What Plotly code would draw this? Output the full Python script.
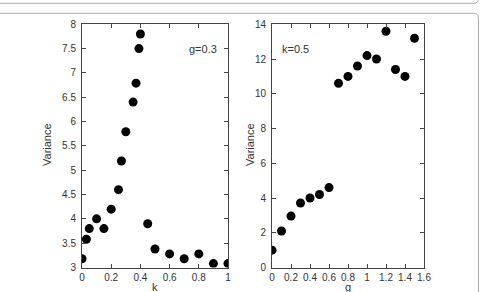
import plotly.graph_objects as go

W, H = 480, 292

# Left panel: g = 0.3
k_vals = [0.0, 0.03, 0.05, 0.10, 0.15, 0.20, 0.25, 0.27, 0.30, 0.35, 0.37, 0.39, 0.40,
          0.45, 0.50, 0.60, 0.70, 0.80, 0.90, 1.00]
var_k = [3.18, 3.58, 3.8, 4.0, 3.8, 4.2, 4.6, 5.19, 5.79, 6.4, 6.79, 7.5, 7.8,
         3.9, 3.38, 3.28, 3.18, 3.28, 3.08, 3.08]

# Right panel: k = 0.5
g_vals = [0.0, 0.1, 0.2, 0.3, 0.4, 0.5, 0.6, 0.7, 0.8, 0.9, 1.0, 1.1, 1.2, 1.3, 1.4, 1.5]
var_g = [1.0, 2.1, 2.96, 3.71, 4.0, 4.2, 4.6, 10.6, 11.0, 11.6, 12.2, 12.0, 13.6, 11.4, 11.0, 13.2]

left_yticks = [3, 3.5, 4, 4.5, 5, 5.5, 6, 6.5, 7, 7.5, 8]
left_xticks = [0, 0.2, 0.4, 0.6, 0.8, 1]
right_yticks = [0, 2, 4, 6, 8, 10, 12, 14]
right_xticks = [0, 0.2, 0.4, 0.6, 0.8, 1, 1.2, 1.4, 1.6]


def px(x):
    return x / W


def py(y):
    return 1 - y / H


fig = go.Figure()
mk = dict(color="black", size=9)
fig.add_trace(go.Scatter(x=k_vals, y=var_k, mode="markers", marker=mk,
                         xaxis="x", yaxis="y", showlegend=False))
fig.add_trace(go.Scatter(x=g_vals, y=var_g, mode="markers", marker=mk,
                         xaxis="x2", yaxis="y2", showlegend=False))

font = dict(family="Liberation Sans, Arial, sans-serif", size=10, color="#333")
ax_common = dict(showgrid=False, zeroline=False, showline=True, linecolor="#444",
                 linewidth=1, mirror="allticks", ticks="inside", ticklen=4,
                 tickcolor="#444", tickfont=font, automargin=False)
xax = dict(ax_common, ticklabelstandoff=0)
yax = dict(ax_common, ticklabelstandoff=3)

ydom = [py(267.5), py(24.3)]
fig.update_layout(
    width=W, height=H,
    margin=dict(l=0, r=0, t=0, b=0),
    paper_bgcolor="white", plot_bgcolor="white",
    xaxis=dict(domain=[px(82), px(228)], range=[0, 1], tickvals=left_xticks,
               ticktext=[str(v) for v in left_xticks], anchor="y", **xax),
    yaxis=dict(domain=ydom, range=[3, 8], tickvals=left_yticks,
               ticktext=[f"{v:g}" for v in left_yticks], anchor="x", **yax),
    xaxis2=dict(domain=[px(272), px(424)], range=[0, 1.6], tickvals=right_xticks,
                ticktext=[f"{v:g}" for v in right_xticks], anchor="y2", **xax),
    yaxis2=dict(domain=ydom, range=[0, 14], tickvals=right_yticks,
                ticktext=[str(v) for v in right_yticks], anchor="x2", **yax),
)

tfont = dict(family="Liberation Sans, Arial, sans-serif", size=11, color="#333")
ann = [
    dict(text="Variance", x=px(47), y=py(145), textangle=-90),
    dict(text="Variance", x=px(250), y=py(145), textangle=-90),
    dict(text="k", x=px(155), y=py(286.5)),
    dict(text="g", x=px(348), y=py(287)),
    dict(text="g=0.3", x=px(203), y=py(49)),
    dict(text="k=0.5", x=px(295), y=py(49)),
]
for a in ann:
    fig.add_annotation(xref="paper", yref="paper", showarrow=False, font=tfont,
                       xanchor="center", yanchor="middle", **a)

# figure frame lines
r = 5
frame = "#aaa"
p1 = (f"M {px(0)},{py(3.3)} L {px(478.5 - r)},{py(3.3)} "
      f"Q {px(478.5)},{py(3.3)} {px(478.5)},{py(3.3 - r)} L {px(478.5)},{py(-1)}")
p2 = (f"M {px(0)},{py(13.3)} L {px(478.5 - r)},{py(13.3)} "
      f"Q {px(478.5)},{py(13.3)} {px(478.5)},{py(13.3 + r)} L {px(478.5)},{py(293)}")
for p in (p1, p2):
    fig.add_shape(type="path", path=p, xref="paper", yref="paper",
                  line=dict(color=frame, width=1))

fig.write_html("out.html")
